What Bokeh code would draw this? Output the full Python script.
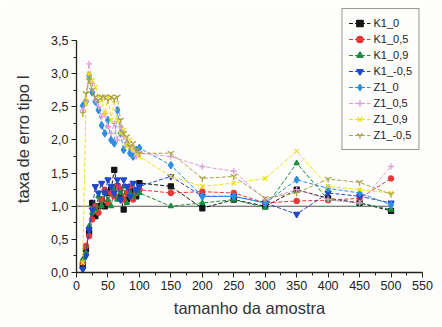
from bokeh.plotting import figure
from bokeh.models import SingleIntervalTicker, CustomJSTickFormatter, Legend
from bokeh.embed import file_html
from bokeh.resources import INLINE

# ---------------- data ----------------
x_vals = [10, 15, 20, 25, 30, 35, 40, 45, 50, 55, 60, 65, 70, 75, 80, 85, 90, 95, 100,
          150, 200, 250, 300, 350, 400, 450, 500]

k1_0 = [0.10, 0.35, 0.60, 1.05, 0.85, 1.00, 1.10, 1.00, 1.20, 1.25, 1.55, 1.30, 1.15, 0.95, 1.10, 1.25, 1.20, 1.15, 1.35,
        1.30, 0.97, 1.10, 1.00, 1.25, 1.12, 1.05, 0.93]
k1_05 = [0.15, 0.40, 0.55, 0.80, 1.00, 0.90, 1.10, 1.25, 1.05, 1.20, 1.15, 1.30, 1.25, 1.10, 1.20, 1.30, 1.10, 1.20, 1.25,
         1.20, 1.22, 1.20, 1.05, 1.08, 1.09, 1.12, 1.42]
k1_09 = [0.20, 0.30, 0.70, 0.90, 0.95, 1.15, 1.00, 1.20, 1.10, 1.00, 1.25, 1.10, 1.20, 1.30, 1.05, 1.20, 1.15, 1.25, 1.20,
         1.00, 1.05, 1.10, 0.98, 1.65, 1.10, 1.05, 0.95]
k1_m05 = [0.05, 0.25, 0.65, 0.95, 1.30, 1.20, 1.35, 1.20, 1.40, 1.30, 1.20, 1.40, 1.10, 1.40, 1.30, 1.15, 1.35, 1.25, 1.30,
          1.45, 1.15, 1.15, 1.05, 0.88, 1.20, 1.15, 1.05]
z1_0 = [2.52, 2.58, 2.97, 2.72, 2.58, 2.45, 2.22, 2.10, 2.30, 2.00, 1.95, 2.45, 2.10, 1.85, 1.95, 1.80, 1.75, 1.85, 1.88,
        1.62, 1.15, 1.15, 1.05, 1.40, 1.27, 1.20, 1.02]
z1_05 = [2.45, 2.60, 3.15, 2.85, 2.60, 2.50, 2.35, 2.40, 2.20, 2.10, 2.25, 2.00, 2.20, 2.05, 1.95, 1.90, 1.85, 1.75, 1.80,
         1.75, 1.60, 1.53, 1.10, 1.25, 1.10, 1.05, 1.60]
z1_09 = [0.15, 2.55, 3.00, 2.90, 2.80, 2.65, 2.60, 2.40, 2.65, 2.30, 2.60, 2.30, 2.10, 2.15, 1.90, 2.00, 1.85, 1.80, 1.75,
         1.45, 1.30, 1.35, 1.42, 1.83, 1.30, 1.25, 1.20]
z1_m05 = [2.40, 2.70, 2.90, 2.75, 2.65, 2.60, 2.65, 2.65, 2.60, 2.65, 2.62, 2.65, 2.30, 2.10, 2.05, 1.90, 1.95, 1.85, 1.80,
          1.80, 1.42, 1.45, 1.12, 1.20, 1.41, 1.36, 1.18]

series_names = ["K1_0", "K1_0,5", "K1_0,9", "K1_-0,5", "Z1_0", "Z1_0,5", "Z1_0,9", "Z1_-0,5"]
series_values = [k1_0, k1_05, k1_09, k1_m05, z1_0, z1_05, z1_09, z1_m05]

ref_x = [0, 500]
ref_y = [1.0, 1.0]

# ---------------- styles ----------------
colors = ["#151515", "#e8383a", "#1f8a40", "#2048c8", "#2b8fe0", "#e49ad8", "#ece020", "#a9a24a"]
markers = ["square", "circle", "triangle", "inverted_triangle", "diamond", "cross", "x", "y"]
sizes = [5, 5, 5, 6, 7, 6, 6, 7]

p = figure(width=442, height=327, output_backend="svg", toolbar_location=None,
           x_range=(0, 550), y_range=(0, 4.03),
           min_border_left=76, min_border_right=20, min_border_top=5, min_border_bottom=55,
           background_fill_color="#fdfdfb", border_fill_color="#fdfdfb")
p.outline_line_color = None
p.xgrid.visible = False
p.ygrid.visible = False

p.line(ref_x, ref_y, line_color="#555555", line_width=1.2)

legend_items = []
for name, vals, c, m, s in zip(series_names, series_values, colors, markers, sizes):
    r1 = p.line(x_vals, vals, line_color=c, line_width=1, line_dash="4 2")
    r2 = p.scatter(x_vals, vals, marker=m, size=s, fill_color=c, line_color=c, line_width=1.3)
    legend_items.append((name, [r1, r2]))

legend = Legend(items=legend_items, location="top_right")
legend.border_line_color = "#333333"
legend.border_line_width = 1
legend.background_fill_color = "#fdfdfb"
legend.background_fill_alpha = 1
legend.label_text_font = "Liberation Sans"
legend.label_text_font_size = "11px"
legend.label_text_color = "#222222"
legend.glyph_width = 22
legend.glyph_height = 16
legend.label_height = 16
legend.spacing = 0
legend.padding = 6
legend.margin = 3
legend.label_standoff = 3
p.add_layout(legend)

# axes
xa = p.xaxis[0]
xa.ticker = SingleIntervalTicker(interval=50, num_minor_ticks=2)
xa.axis_label = "tamanho da amostra"
ya = p.yaxis[0]
ya.ticker = SingleIntervalTicker(interval=0.5, num_minor_ticks=2)
ya.formatter = CustomJSTickFormatter(code="return tick.toFixed(1).replace('.', ',');")
ya.axis_label = "taxa de erro tipo I"
ya.bounds = (0, 3.5)
for ax in (xa, ya):
    ax.axis_line_color = "#222222"
    ax.axis_line_width = 1.3
    ax.major_tick_line_color = "#222222"
    ax.minor_tick_line_color = "#222222"
    ax.major_tick_out = 5
    ax.major_tick_in = 0
    ax.minor_tick_out = 3
    ax.minor_tick_in = 0
    ax.major_label_text_font = "Liberation Sans"
    ax.major_label_text_font_size = "12.5px"
    ax.major_label_text_color = "#222222"
    ax.axis_label_text_font = "Liberation Sans"
    ax.axis_label_text_font_size = "16.5px"
    ax.axis_label_text_font_style = "normal"
    ax.axis_label_text_color = "#333333"
xa.major_label_standoff = 3
xa.axis_label_standoff = 6
ya.major_label_standoff = 3
ya.axis_label_standoff = 16

open("out.html", "w").write(file_html(p, INLINE))
